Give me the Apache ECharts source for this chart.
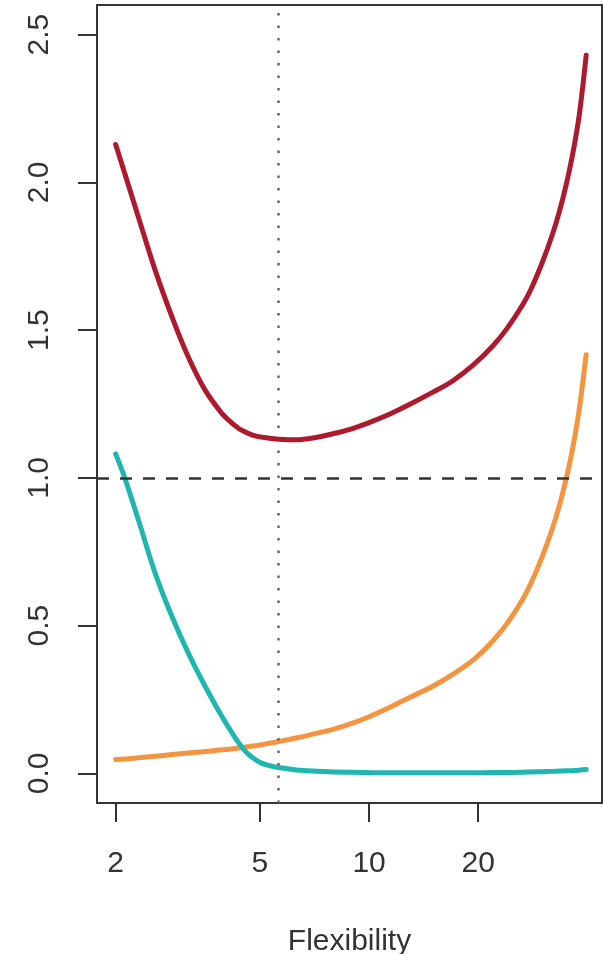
<!DOCTYPE html>
<html>
<head>
<meta charset="utf-8">
<script src="https://cdn.jsdelivr.net/npm/echarts@6/dist/echarts.min.js"></script>
<style>html,body{margin:0;padding:0;background:#fff;}#c{width:603px;height:954px;}</style>
</head>
<body>
<div id="c"></div>
<script>
// Flexibility grid (x values)
const flexibility = [2, 2.12, 2.31, 2.57, 2.86, 3.17, 3.53, 3.92, 4.1, 4.36, 4.6, 4.85, 5.05, 5.3, 5.63, 6.3, 7, 8, 9, 10, 11.5, 13, 15, 17, 19.5, 22, 24, 26.5, 28, 30, 32, 33.5, 35, 36.5, 38, 39.7];
// Red curve (test MSE)
const mseValues = [2.128, 2.029, 1.883, 1.703, 1.545, 1.41, 1.297, 1.219, 1.195, 1.168, 1.153, 1.142, 1.138, 1.134, 1.131, 1.129, 1.135, 1.15, 1.167, 1.187, 1.218, 1.25, 1.29, 1.328, 1.385, 1.448, 1.505, 1.585, 1.64, 1.727, 1.822, 1.902, 1.994, 2.1, 2.228, 2.43];
// Teal curve (squared bias)
const biasValues = [1.081, 0.999, 0.858, 0.678, 0.531, 0.408, 0.295, 0.194, 0.155, 0.105, 0.07, 0.047, 0.035, 0.027, 0.02, 0.012, 0.008, 0.005, 0.004, 0.003, 0.002, 0.002, 0.002, 0.002, 0.002, 0.003, 0.003, 0.004, 0.005, 0.006, 0.007, 0.008, 0.009, 0.01, 0.011, 0.013];
// Orange curve (variance)
const varianceValues = [0.047, 0.049, 0.053, 0.058, 0.064, 0.069, 0.074, 0.08, 0.082, 0.086, 0.09, 0.094, 0.097, 0.102, 0.108, 0.12, 0.133, 0.15, 0.17, 0.192, 0.226, 0.258, 0.295, 0.335, 0.387, 0.45, 0.507, 0.588, 0.645, 0.732, 0.827, 0.907, 0.999, 1.105, 1.233, 1.417];
// Reference lines
const irreducibleError = 1.0;
const chosenFlexibility = 5.62;
// Tick labels
const xTicks = [2, 5, 10, 20];
const yTicks = [0, 0.5, 1.0, 1.5, 2.0, 2.5];

const pairs = (ys) => flexibility.map((x, i) => [x, ys[i]]);
const fontFamily = 'Liberation Sans, Arial, Helvetica, sans-serif';
const textColor = '#333';

const chart = echarts.init(document.getElementById('c'), null, {renderer: 'canvas'});
chart.setOption({
  animation: false,
  backgroundColor: '#fff',
  grid: {left: 97, right: 1, top: 5, bottom: 151, containLabel: false, outerBoundsMode: 'none', show: true, borderColor: '#333', borderWidth: 2, backgroundColor: 'transparent'},
  xAxis: {
    type: 'log',
    min: 1.7765,
    max: 43.9,
    name: 'Flexibility',
    nameLocation: 'middle',
    nameGap: 124,
    nameTextStyle: {fontFamily, fontSize: 30, color: textColor},
    axisLine: {show: false, onZero: false},
    splitLine: {show: false},
    minorTick: {show: false},
    axisTick: {show: true, customValues: xTicks, length: 19, lineStyle: {color: '#333', width: 2}},
    axisLabel: {customValues: xTicks, margin: 46, fontFamily, fontSize: 30, color: textColor, formatter: (v) => String(Math.round(v))}
  },
  yAxis: {
    type: 'value',
    min: -0.1,
    max: 2.6,
    axisLine: {show: false, onZero: false},
    splitLine: {show: false},
    axisTick: {show: true, customValues: yTicks, length: 19, lineStyle: {color: '#333', width: 2}},
    axisLabel: {customValues: yTicks, rotate: 90, margin: 42, fontFamily, fontSize: 30, color: textColor, formatter: (v) => Number(v).toFixed(1)}
  },
  series: [
    {
      type: 'line', data: pairs(varianceValues), showSymbol: false, smooth: 0.35,
      lineStyle: {color: '#F39440', width: 5, cap: 'round'}, z: 3
    },
    {
      type: 'line', data: pairs(biasValues), showSymbol: false, smooth: 0.35,
      lineStyle: {color: '#20B6B0', width: 5, cap: 'round'}, z: 4
    },
    {
      type: 'line', data: pairs(mseValues), showSymbol: false, smooth: 0.35,
      lineStyle: {color: '#AD1A2E', width: 5, cap: 'round'}, z: 5,
      markLine: {
        silent: true, symbol: 'none', label: {show: false},
        data: [
          {yAxis: irreducibleError, lineStyle: {color: '#333', width: 2.5, type: [12, 11]}},
          {xAxis: chosenFlexibility, lineStyle: {color: '#666', width: 2.5, type: [2.5, 10]}}
        ]
      }
    }
  ]
});
</script>
</body>
</html>
